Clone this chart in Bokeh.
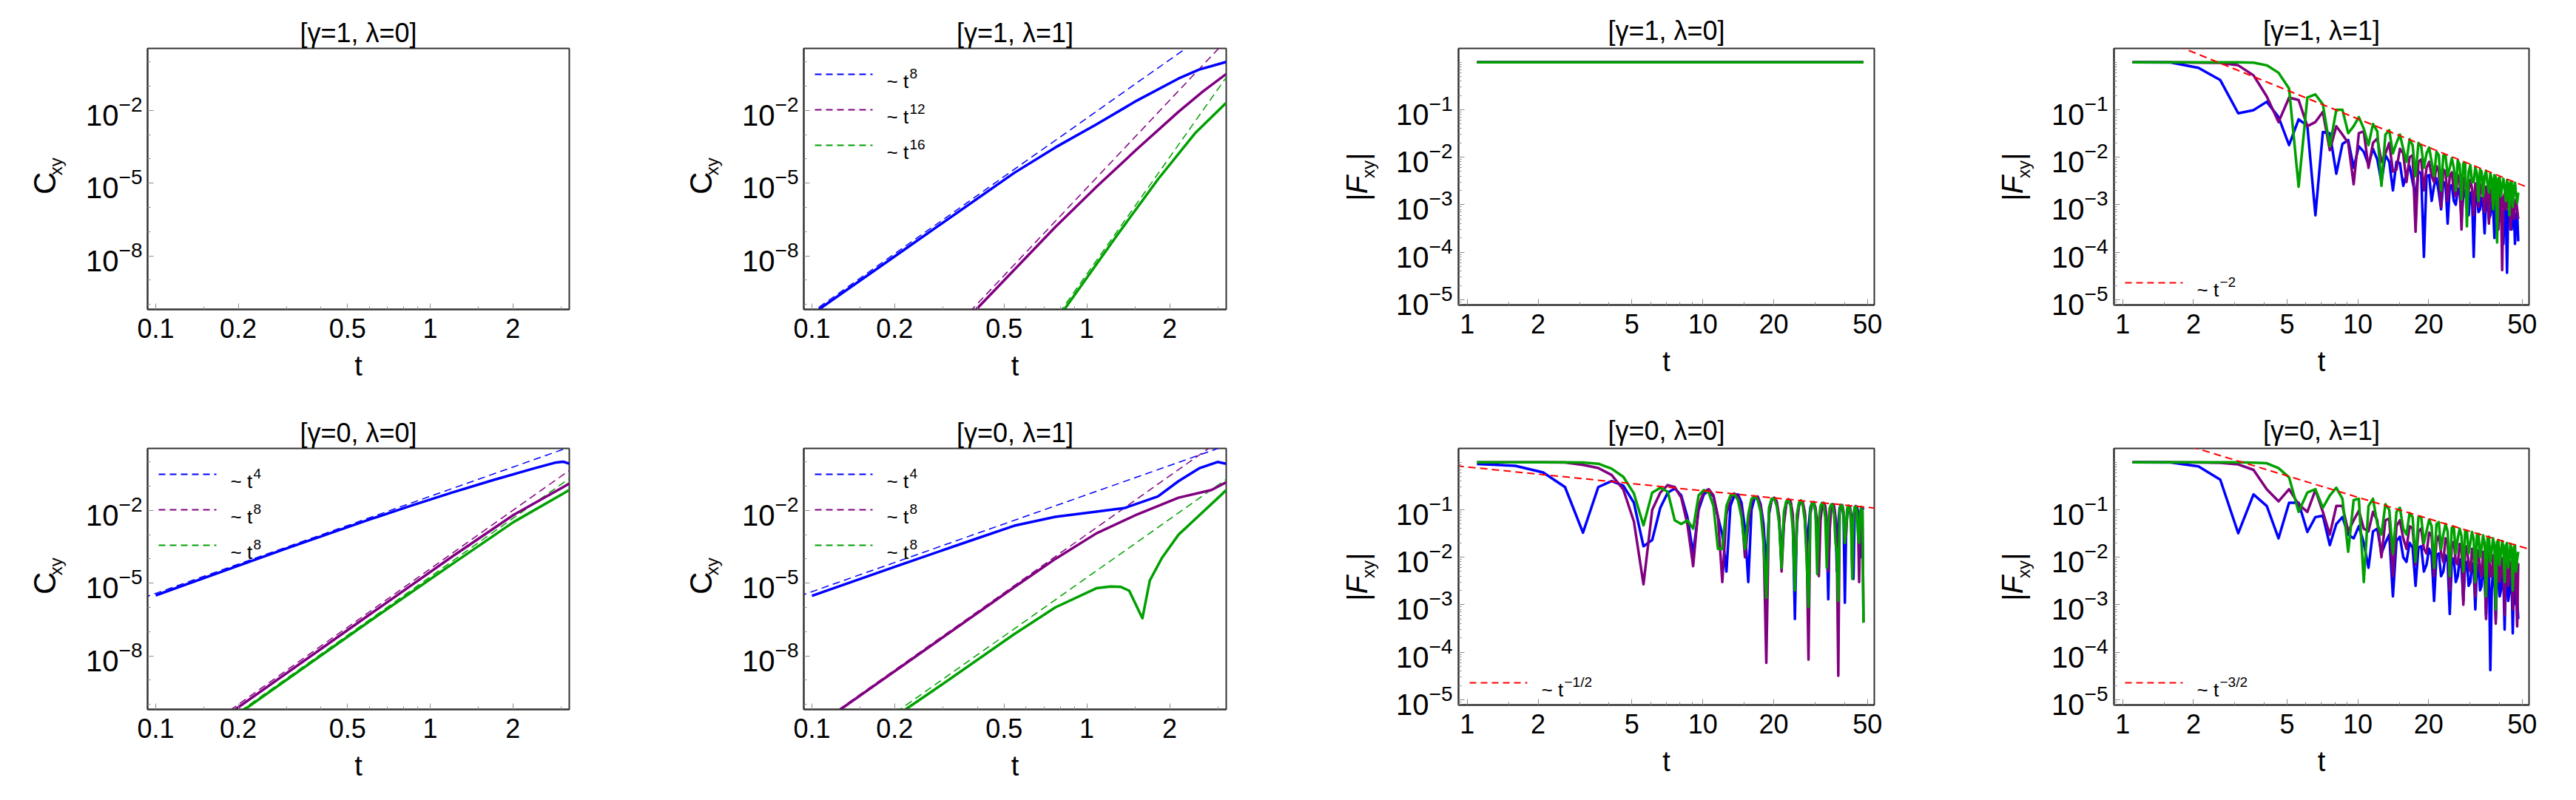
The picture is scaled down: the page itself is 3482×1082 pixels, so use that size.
from bokeh.plotting import figure
from bokeh.models import Range1d, FixedTicker, CustomJSTickFormatter, LogTickFormatter, Label, Arrow, LogAxis
from bokeh.layouts import column, row
from bokeh.embed import file_html
from bokeh.resources import INLINE

FONT = "Liberation Sans"
BLUE, PURPLE, GREEN, RED = "#0000ff", "#800080", "#00a000", "#ff0000"
NB = "\u00a0"

# ---------------- C_xy panels ----------------
G_T = [0.09, 3.3]  # extent of the dashed power-law guides

# [gamma=1, lambda=1]
C11_blue_t = [0.106, 0.194, 0.544, 0.768, 1.083, 1.528, 2.155, 2.559, 3.212]
C11_blue = [6.2e-11, 7.5e-9, 2.64e-5, 2.97e-4, 2.63e-3, 2.62e-2, 0.206, 0.481, 1.0]
C11_purple_t = [0.396, 0.768, 1.083, 1.528, 2.155, 2.649, 3.212]
C11_purple = [6.2e-11, 1.55e-7, 6.97e-6, 2.64e-4, 8.83e-3, 6.14e-2, 0.318]
C11_green_t = [0.828, 1.286, 1.814, 2.473, 3.212]
C11_green = [6.2e-11, 6.98e-8, 1.44e-5, 1.13e-3, 2.06e-2]
C11_guides = {"blue": [2.06e-11, 67.3], "purple": [1.8e-18, 10.6], "green": [3.3e-26, 0.352]}

# [gamma=0, lambda=0]
C00_blue_t = [0.1, 0.303, 0.604, 0.853, 1.203, 1.698, 2.396, 2.847, 3.05, 3.212]
C00_blue = [3.13e-6, 2.83e-4, 4.27e-3, 1.58e-2, 5.43e-2, 0.178, 0.542, 0.925, 1.02, 0.839]
C00_purple_t = [0.195, 0.604, 1.203, 2.017, 3.212]
C00_purple = [6.2e-11, 5.21e-7, 1.245e-4, 6.61e-3, 0.127]
C00_green_t = [0.211, 0.604, 1.203, 2.017, 3.212]
C00_green = [6.2e-11, 2.77e-7, 6.15e-5, 3.35e-3, 6.92e-2]
C00_guides = {"blue": [2.49e-6, 4.51], "purple": [1.67e-13, 0.547], "green": [7.8e-14, 0.256]}

# [gamma=0, lambda=1]
C01_blue_t = [0.1, 0.194, 0.386, 0.544, 0.768, 1.083, 1.377, 1.814, 2.155, 2.559, 2.987, 3.212]
C01_blue = [2.98e-6, 4.18e-5, 6.15e-4, 2.33e-3, 5.45e-3, 8.83e-3, 1.27e-2, 3.78e-2, 0.161, 0.542, 0.993, 0.839]
C01_purple_t = [0.127, 0.273, 0.544, 0.768, 1.083, 1.528, 2.155, 2.837, 3.212]
C01_purple = [6.2e-11, 2.78e-8, 6.79e-6, 1.0e-4, 1.13e-3, 6.93e-3, 3.35e-2, 6.92e-2, 0.143]
C01_green_t = [0.219, 0.273, 0.544, 0.768, 1.083, 1.221, 1.331, 1.426, 1.592, 1.694, 1.878, 2.155, 2.559, 3.04, 3.212]
C01_green = [6.2e-11, 3.39e-10, 7.87e-8, 1.0e-6, 6.17e-6, 7.31e-6, 6.97e-6, 4.84e-6, 3.54e-7, 1.28e-5,
             1.13e-4, 9.98e-4, 6.14e-3, 3.78e-2, 6.92e-2]
C01_guides = {"blue": [2.91e-6, 5.26], "purple": [4.4e-12, 14.5], "green": [7.3e-14, 0.239]}

# ---------------- |F_xy| panels ----------------
T_F = [1.1, 1.6, 2.1, 2.6, 3.1, 3.6, 4.1, 4.6, 5.1, 5.6, 6.1, 6.6, 7.1, 7.6, 8.1, 8.6, 9.1, 9.6, 10.1, 10.6,
       11.1, 11.6, 12.1, 12.6, 13.1, 13.6, 14.1, 14.6, 15.1, 15.6, 16.1, 16.6, 17.1, 17.6, 18.1, 18.6, 19.1,
       19.6, 20.1, 20.6, 21.1, 21.6, 22.1, 22.6, 23.1, 23.6, 24.1, 24.6, 25.1, 25.6, 26.1, 26.6, 27.1, 27.6,
       28.1, 28.6, 29.1, 29.6, 30.1, 30.6, 31.1, 31.6, 32.1, 32.6, 33.1, 33.6, 34.1, 34.6, 35.1, 35.6, 36.1,
       36.6, 37.1, 37.6, 38.1, 38.6, 39.1, 39.6, 40.1, 40.6, 41.1, 41.6, 42.1, 42.6, 43.1, 43.6, 44.1, 44.6,
       45.1, 45.6, 46.1, 46.6, 47.1, 47.6, 48.1]
FG_T = [0.9, 55.0]

# [gamma=1, lambda=0]  (constant)
F10_t = [1.1, 48.1]
F10_blue = [1.0, 1.0]
F10_purple = [1.0, 1.0]
F10_green = [1.0, 1.0]

# [gamma=1, lambda=1]
F11_blue = [1.0, 0.99, 0.76, 0.42, 0.084, 0.098, 0.147, 0.070, 0.018,
            0.063, 0.046, 6e-4, 0.034, 0.032, 0.0045, 0.019, 0.023, 0.006, 0.017, 0.013,
            0.007, 0.015, 0.009, 0.003, 0.011, 0.008, 0.002, 0.008, 0.0075, 0.0025,
            0.0045, 0.0065, 0.003, 0.0015, 0.005, 0.0045, 8e-5, 0.004, 0.0042, 0.0012,
            0.0025, 0.0036, 0.0018, 8e-4, 0.003, 0.0028, 4e-4, 0.0024, 0.0026, 0.0012,
            0.001, 0.0022, 0.0018, 5e-4, 0.0016, 0.002, 0.001, 6e-4, 0.0018, 0.0015,
            8e-5, 0.0014, 0.0016, 7e-4, 8e-4, 0.0014, 0.001, 2.5e-4, 0.0012, 0.0013,
            5e-4, 6e-4, 0.0012, 9e-4, 2e-4, 0.001, 0.0011, 4e-4, 5e-4, 0.001,
            7e-4, 1.5e-4, 9e-4, 9e-4, 3.7e-5, 7e-4, 9e-4, 5e-4, 3e-4, 8e-4,
            7e-4, 1.5e-4, 6e-4, 7e-4, 1.7e-4]
F11_purple = [1.0, 1.0, 0.98, 0.97, 0.86, 0.53, 0.19, 0.055, 0.18,
              0.16, 0.045, 0.055, 0.09, 0.014, 0.045, 0.03, 0.02, 0.0027, 0.032, 0.035,
              0.006, 0.02, 0.025, 0.008, 0.012, 0.02, 0.005, 0.0055, 0.015, 0.012,
              0.003, 0.01, 0.011, 2.7e-4, 0.008, 0.009, 0.002, 0.006, 0.008, 0.004,
              0.003, 0.0065, 0.005, 9e-4, 0.0055, 0.005, 0.0012, 0.004, 0.0048, 0.002,
              0.0015, 0.0042, 0.0035, 3e-4, 0.0035, 0.0038, 0.0012, 0.002, 0.0033, 0.0022,
              6e-4, 0.0028, 0.0028, 9e-4, 0.0018, 0.0027, 0.0015, 7e-4, 0.0024, 0.0022,
              4e-4, 0.0019, 0.0022, 0.001, 0.001, 0.002, 0.0016, 3e-4, 0.0017, 0.0018,
              4.2e-5, 0.0014, 0.0017, 8e-4, 9e-4, 0.0016, 0.0012, 3e-4, 0.0014, 0.0014,
              5e-4, 0.001, 0.0013, 8e-4, 5e-4]
F11_green = [1.0, 1.0, 1.0, 1.0, 1.0, 0.98, 0.86, 0.60, 0.28,
             0.0024, 0.18, 0.21, 0.13, 0.017, 0.10, 0.10, 0.032, 0.045, 0.07, 0.04,
             0.018, 0.05, 0.035, 0.0025, 0.03, 0.037, 0.012, 0.02, 0.03, 0.015,
             0.008, 0.024, 0.018, 0.004, 0.02, 0.017, 0.006, 0.012, 0.016, 0.008,
             0.004, 0.013, 0.011, 0.002, 0.011, 0.011, 0.004, 0.006, 0.0095, 0.006,
             0.002, 0.0085, 0.007, 0.0013, 0.0075, 0.0075, 3.5e-4, 0.005, 0.0068, 0.003,
             0.003, 0.0062, 0.0045, 0.0012, 0.0055, 0.005, 0.0015, 0.004, 0.0052, 0.0028,
             0.0018, 0.0046, 0.0035, 8e-4, 0.0042, 0.0038, 1.6e-4, 0.0035, 0.0038, 0.0015,
             0.0025, 0.0035, 0.0022, 0.0012, 0.0033, 0.0026, 6e-4, 0.003, 0.003, 9e-4,
             0.0022, 0.0029, 0.0016, 0.0011, 0.0018]
F11_guide = [7.96, 2.13e-3]

# [gamma=0, lambda=0]
F00_blue = [0.92, 0.84, 0.61, 0.30, 0.033, 0.30, 0.40, 0.32, 0.14,
            0.017, 0.023, 0.11, 0.23, 0.28, 0.20, 0.07, 0.012, 0.10, 0.21, 0.25,
            0.19, 0.07, 0.03, 0.005, 0.12, 0.20, 0.21, 0.14, 0.04, 0.003,
            0.10, 0.18, 0.19, 0.13, 0.05, 0.006, 0.08, 0.16, 0.175, 0.14,
            0.06, 0.008, 0.06, 0.14, 0.165, 0.14, 0.06, 5e-4, 0.07, 0.13,
            0.155, 0.13, 0.08, 0.015, 0.04, 0.11, 0.14, 0.14, 0.09, 0.02,
            0.02, 0.09, 0.135, 0.13, 0.10, 0.03, 0.0013, 0.07, 0.12, 0.13,
            0.11, 0.05, 0.005, 0.05, 0.11, 0.125, 0.12, 0.07, 0.0011, 0.04,
            0.10, 0.12, 0.115, 0.08, 0.02, 0.0035, 0.08, 0.115, 0.115, 0.09,
            0.03, 0.01, 0.07, 0.11, 0.10]
F00_purple = [1.0, 1.0, 1.0, 0.99, 0.88, 0.755, 0.54, 0.265, 0.056,
              0.0027, 0.10, 0.23, 0.33, 0.30, 0.18, 0.05, 0.0065, 0.12, 0.24, 0.27,
              0.20, 0.07, 0.003, 0.08, 0.18, 0.22, 0.19, 0.10, 0.01, 0.05,
              0.15, 0.19, 0.18, 0.12, 0.03, 6e-5, 0.09, 0.16, 0.18, 0.15,
              0.07, 0.005, 0.05, 0.13, 0.165, 0.15, 0.08, 0.003, 0.05, 0.12,
              0.155, 0.14, 0.09, 0.02, 7e-5, 0.08, 0.13, 0.145, 0.11, 0.05,
              0.004, 0.06, 0.12, 0.14, 0.12, 0.06, 0.005, 0.04, 0.11, 0.13,
              0.12, 0.07, 0.01, 3.2e-5, 0.09, 0.125, 0.125, 0.09, 0.02, 0.03,
              0.10, 0.12, 0.11, 0.07, 0.006, 0.05, 0.11, 0.12, 0.10, 0.05,
              0.003, 0.06, 0.11, 0.11, 4.2e-4]
F00_green = [1.0, 1.0, 1.0, 1.0, 0.99, 0.93, 0.73, 0.49, 0.22,
             0.047, 0.23, 0.29, 0.24, 0.06, 0.05, 0.06, 0.04, 0.20, 0.26, 0.23,
             0.12, 0.015, 0.015, 0.12, 0.20, 0.21, 0.16, 0.07, 0.015, 0.08,
             0.17, 0.19, 0.16, 0.09, 0.02, 0.0014, 0.11, 0.17, 0.17, 0.12,
             0.05, 0.006, 0.09, 0.15, 0.16, 0.12, 0.04, 0.002, 0.08, 0.14,
             0.155, 0.12, 0.06, 0.009, 9e-4, 0.10, 0.14, 0.14, 0.09, 0.0044,
             0.06, 0.12, 0.14, 0.12, 0.07, 0.006, 0.05, 0.11, 0.13, 0.12,
             0.08, 0.02, 0.012, 0.0012, 0.10, 0.125, 0.12, 0.08, 0.02, 0.05,
             0.11, 0.12, 0.10, 0.05, 0.0035, 0.07, 0.115, 0.115, 0.09, 0.03,
             0.02, 0.09, 0.115, 0.09, 4.2e-4]
F00_guide = [0.836, 0.107]

# [gamma=0, lambda=1]
F01_blue = [1.0, 0.99, 0.82, 0.43, 0.032, 0.21, 0.12, 0.025, 0.14,
            0.14, 0.034, 0.07, 0.075, 0.018, 0.05, 0.07, 0.03, 0.025, 0.045, 0.02,
            0.006, 0.035, 0.04, 0.012, 0.02, 0.03, 0.0015, 0.022, 0.027, 0.01,
            0.008, 0.02, 0.016, 0.0025, 0.016, 0.017, 0.005, 0.007, 0.015, 0.011,
            0.0012, 0.011, 0.012, 0.004, 0.005, 0.011, 0.008, 6.4e-4, 0.008, 0.0095,
            0.003, 0.004, 0.009, 0.006, 0.0012, 0.007, 0.008, 0.0025, 0.003, 0.0075,
            0.0055, 8e-4, 0.006, 0.007, 0.002, 0.0025, 0.0065, 0.0045, 6e-4, 0.0055,
            0.006, 4.2e-5, 0.002, 0.0055, 0.004, 5e-4, 0.0045, 0.005, 0.0015, 0.002,
            0.005, 0.0035, 3e-4, 0.004, 0.0045, 0.0012, 0.0018, 0.0042, 0.003, 2.5e-4,
            0.0035, 0.004, 0.001, 0.0015, 5e-4]
F01_purple = [1.0, 1.0, 0.99, 0.97, 0.90, 0.69, 0.27, 0.15, 0.27,
              0.13, 0.09, 0.26, 0.09, 0.03, 0.12, 0.12, 0.035, 0.06, 0.095, 0.04,
              0.035, 0.09, 0.06, 0.01, 0.06, 0.065, 0.004, 0.045, 0.06, 0.025,
              0.015, 0.045, 0.04, 0.007, 0.035, 0.04, 0.015, 0.012, 0.033, 0.028,
              0.004, 0.022, 0.028, 0.012, 0.008, 0.025, 0.02, 0.002, 0.018, 0.021,
              0.008, 0.007, 0.019, 0.015, 0.001, 0.014, 0.017, 0.007, 0.005, 0.015,
              0.012, 0.0015, 0.011, 0.014, 0.005, 0.004, 0.013, 0.01, 5e-4, 0.009,
              0.012, 0.004, 0.004, 0.011, 0.008, 4e-4, 0.009, 0.01, 0.003, 0.004,
              0.0095, 0.007, 6e-4, 0.008, 0.009, 0.0025, 0.004, 0.008, 0.006, 8e-4,
              0.007, 0.008, 0.002, 3.5e-4, 0.0075]
F01_green = [1.0, 1.0, 1.0, 1.0, 1.0, 0.98, 0.95, 0.75, 0.48,
             0.09, 0.23, 0.27, 0.11, 0.2, 0.29, 0.17, 0.013, 0.16, 0.17, 0.003,
             0.12, 0.17, 0.05, 0.03, 0.13, 0.1, 0.012, 0.09, 0.11, 0.04,
             0.03, 0.085, 0.07, 0.008, 0.07, 0.07, 0.02, 0.035, 0.062, 0.045,
             0.006, 0.05, 0.055, 0.015, 0.03, 0.05, 0.035, 0.004, 0.042, 0.044,
             0.012, 0.025, 0.04, 0.028, 0.005, 0.035, 0.036, 0.012, 0.02, 0.034,
             0.024, 0.003, 0.03, 0.031, 0.01, 0.016, 0.029, 0.02, 0.0015, 0.025,
             0.027, 0.008, 0.014, 0.025, 0.018, 8e-4, 0.021, 0.023, 0.007, 0.012,
             0.022, 0.016, 0.003, 0.018, 0.02, 0.006, 0.01, 0.019, 0.014, 0.002,
             0.016, 0.018, 0.005, 0.009, 0.013]
F01_guide = [6.77, 1.417e-2]

TITLES = ["[\u03b3=1, \u03bb=0]", "[\u03b3=1, \u03bb=1]", "[\u03b3=0, \u03bb=0]", "[\u03b3=0, \u03bb=1]"]

# layout geometry per column: (left border, frame width, right border)
COLS = [(199, 570, 101), (216, 571, 83), (231, 562, 77), (247, 561, 64)]
ROW_H = 541


def label_axis(p, text, size, style, standoff):
    ax = LogAxis(ticker=FixedTicker(ticks=[]), axis_label=text,
                 axis_label_text_font=FONT, axis_label_text_font_size=size,
                 axis_label_text_font_style=style, axis_label_text_color="black",
                 axis_label_standoff=standoff, axis_line_color=None,
                 major_tick_in=0, major_tick_out=0, minor_tick_in=0, minor_tick_out=0,
                 major_tick_line_color=None, minor_tick_line_color=None)
    p.add_layout(ax, "left")


def base_fig(col, kind, title):
    left, fw, right = COLS[col]
    if kind == "C":
        top, fh = 59, 353
        xr = Range1d(0.09344, 3.2124)
        yr = Range1d(6.2e-11, 3.59)
    else:
        top, fh = 65, 347
        xr = Range1d(0.9183, 53.46)
        yr = Range1d(7.76e-6, 1.95)
    p = figure(x_axis_type="log", y_axis_type="log", x_range=xr, y_range=yr,
               frame_width=fw, frame_height=fh,
               min_border_left=left, min_border_right=right,
               min_border_top=top, min_border_bottom=ROW_H - top - fh,
               output_backend="svg", toolbar_location=None, title=title)
    p.title.text_font = FONT
    p.title.text_font_size = "36px"
    p.title.text_font_style = "normal"
    p.title.text_color = "black"
    p.title.align = "center"
    p.title.standoff = 1 if kind == "C" else 7
    p.grid.visible = False
    p.outline_line_color = "#333333"
    p.outline_line_width = 2
    p.outline_line_alpha = 1
    xa, ya = p.xaxis[0], p.yaxis[0]
    for ax in (xa, ya):
        ax.major_tick_in = 8
        ax.major_tick_out = 0
        ax.minor_tick_in = 4
        ax.minor_tick_out = 0
        ax.major_tick_line_color = "#8c8c8c"
        ax.minor_tick_line_color = "#8c8c8c"
        ax.axis_line_color = "#333333"
        ax.axis_line_width = 2
        ax.major_label_text_font = FONT
        ax.major_label_text_color = "black"
        ax.axis_label_text_color = "black"
        ax.axis_label_text_font = FONT
        ax.axis_label_text_font_style = "normal"
    xa.major_label_text_font_size = "36px"
    ya.major_label_text_font_size = "40px"
    xa.major_label_standoff = 12
    ya.major_label_standoff = 7 if kind == "C" else 8
    xa.axis_label = "t"
    xa.axis_label_text_font_size = "38px"
    xa.axis_label_standoff = 14
    xa.formatter = CustomJSTickFormatter(code="return String(tick)")
    ya.formatter = LogTickFormatter()
    ya.axis_label_text_font_size = "24px"
    if kind == "C":
        xa.ticker = FixedTicker(ticks=[0.1, 0.2, 0.5, 1, 2],
                                minor_ticks=[0.15, 0.3, 0.4, 0.6, 0.7, 0.8, 0.9, 1.5, 3])
        ya.ticker = FixedTicker(ticks=[1e-2, 1e-5, 1e-8],
                                minor_ticks=[1, 1e-1, 1e-3, 1e-4, 1e-6, 1e-7, 1e-9, 1e-10])
        # y label  C_xy : subscript on the tick axis, "C" on an outer label-only axis
        ya.axis_label = NB * 5 + "xy"
        ya.axis_label_standoff = 24
        label_axis(p, "C" + NB, "42px", "normal", -24)
    else:
        xa.ticker = FixedTicker(ticks=[1, 2, 5, 10, 20, 50],
                                minor_ticks=[1.5, 3, 4, 6, 7, 8, 9, 15, 30, 40])
        minors = [m * 10.0 ** e for e in range(-6, 0) for m in range(2, 10)] + [1.0]
        ya.ticker = FixedTicker(ticks=[1e-1, 1e-2, 1e-3, 1e-4, 1e-5], minor_ticks=minors)
        # y label |F_xy|
        ya.axis_label = NB * 3 + "xy"
        ya.axis_label_standoff = 21
        label_axis(p, "|" + NB * 4 + "|", "40px", "normal", -24)
        label_axis(p, "F" + NB * 2, "40px", "italic", -45)
    return p


def legend_row(p, y, color, expo):
    p.add_layout(Arrow(end=None, x_start=15, y_start=y, x_end=93, y_end=y,
                       start_units="screen", end_units="screen",
                       line_color=color, line_width=2, line_dash="9 6"))
    p.add_layout(Label(x=112, y=y - 9, x_units="screen", y_units="screen", text="~ t",
                       text_font=FONT, text_font_size="26px", text_baseline="alphabetic",
                       text_color="black"))
    p.add_layout(Label(x=143, y=y + 1, x_units="screen", y_units="screen", text=expo,
                       text_font=FONT, text_font_size="19px", text_baseline="alphabetic",
                       text_color="black"))


def c_panel(col, title, data, guides, expos):
    p = base_fig(col, "C", title)
    if data is None:
        return p
    for name, color in (("blue", BLUE), ("purple", PURPLE), ("green", GREEN)):
        p.line(G_T, guides[name], line_color=color, line_width=1.5, line_dash="10 6")
    for (t, c), color in zip(data, (BLUE, PURPLE, GREEN)):
        p.line(t, c, line_color=color, line_width=3.5, line_join="round")
    for y, color, e in zip((318, 270, 222), (BLUE, PURPLE, GREEN), expos):
        legend_row(p, y, color, e)
    return p


def f_panel(col, title, series, guide, expo, t=None):
    p = base_fig(col, "F", title)
    for vals, color in zip(series, (BLUE, PURPLE, GREEN)):
        tt = t if t is not None else T_F[:len(vals)]
        p.line(tt, vals, line_color=color, line_width=3.5, line_join="round")
    if guide is not None:
        p.line(FG_T, guide, line_color=RED, line_width=2, line_dash="10 6")
        legend_row(p, 30, RED, expo)
    return p


p1 = c_panel(0, TITLES[0], None, None, None)
p2 = c_panel(1, TITLES[1], [(C11_blue_t, C11_blue), (C11_purple_t, C11_purple), (C11_green_t, C11_green)],
             C11_guides, ["8", "12", "16"])
p3 = f_panel(2, TITLES[0], [F10_blue, F10_purple, F10_green], None, None, t=F10_t)
p4 = f_panel(3, TITLES[1], [F11_blue, F11_purple, F11_green], F11_guide, "\u22122")
p5 = c_panel(0, TITLES[2], [(C00_blue_t, C00_blue), (C00_purple_t, C00_purple), (C00_green_t, C00_green)],
             C00_guides, ["4", "8", "8"])
p6 = c_panel(1, TITLES[3], [(C01_blue_t, C01_blue), (C01_purple_t, C01_purple), (C01_green_t, C01_green)],
             C01_guides, ["4", "8", "8"])
p7 = f_panel(2, TITLES[2], [F00_blue, F00_purple, F00_green], F00_guide, "\u22121/2")
p8 = f_panel(3, TITLES[3], [F01_blue, F01_purple, F01_green], F01_guide, "\u22123/2")

layout = column(row(p1, p2, p3, p4), row(p5, p6, p7, p8))
open("out.html", "w").write(file_html(layout, INLINE))
